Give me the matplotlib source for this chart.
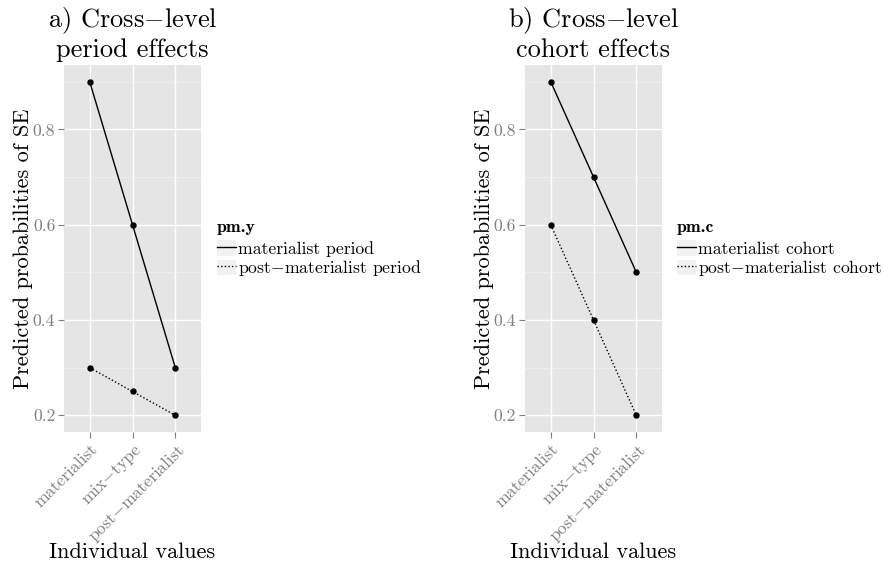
import matplotlib
matplotlib.use("Agg")
import matplotlib.pyplot as plt
from matplotlib.lines import Line2D
from matplotlib.patches import Patch
from matplotlib.ticker import FixedLocator

plt.rcParams['font.family'] = ['cmr10', 'DejaVu Serif']
plt.rcParams['mathtext.fontset'] = 'cm'
plt.rcParams['axes.formatter.use_mathtext'] = True

categories = ["materialist", "mix$-$type", "post$-$materialist"]
period_materialist = [0.9, 0.6, 0.3]
period_postmat = [0.3, 0.25, 0.2]
cohort_materialist = [0.9, 0.7, 0.5]
cohort_postmat = [0.6, 0.4, 0.2]
yticks = [0.2, 0.4, 0.6, 0.8]
yminor = [0.3, 0.5, 0.7, 0.9]

dotted = (0, (1, 1.6))
panels = [
    dict(title="a) Cross$-$level\nperiod effects", legend_title="pm.y",
         series=[("materialist period", period_materialist, '-'),
                 ("post$-$materialist period", period_postmat, dotted)],
         left=64, leg_x=217),
    dict(title="b) Cross$-$level\ncohort effects", legend_title="pm.c",
         series=[("materialist cohort", cohort_materialist, '-'),
                 ("post$-$materialist cohort", cohort_postmat, dotted)],
         left=525, leg_x=677),
]

W, H = 885, 566
fig = plt.figure(figsize=(W / 100, H / 100), dpi=100)
fig.patch.set_facecolor('white')

grey50 = '#7F7F7F'
ax_h = 432 - 65
for p in panels:
    ax = fig.add_axes([p['left'] / W, 1 - 432 / H, 137 / W, ax_h / H])
    ax.set_facecolor('#E5E5E5')
    for s in ax.spines.values():
        s.set_visible(False)
    x = list(range(1, len(categories) + 1))
    handles = []
    for label, vals, ls in p['series']:
        ax.plot(x, vals, color='black', lw=1.0, ls=ls, marker='o', ms=3.6,
                zorder=3)
        handles.append((Patch(facecolor='#F2F2F2', edgecolor='none'),
                        Line2D([], [], color='black', lw=1.0, ls=ls)))
    ax.set_xlim(0.4, 3.6)
    ax.set_ylim(0.165, 0.935)
    ax.set_xticks(x)
    ax.set_xticklabels(categories, rotation=45, ha='right', va='top',
                       rotation_mode='anchor', color=grey50, fontsize=12.7)
    ax.set_yticks(yticks)
    ax.set_yticklabels([f"{v:.1f}" for v in yticks], color=grey50, fontsize=12.7)
    ax.yaxis.set_minor_locator(FixedLocator(yminor))
    ax.grid(True, which='major', color='white', lw=1.0)
    ax.grid(True, which='minor', axis='y', color='#F2F2F2', lw=0.5)
    ax.set_axisbelow(True)
    ax.tick_params(axis='both', which='major', length=4.3, width=0.8,
                   color=grey50, pad=2)
    ax.tick_params(axis='y', which='minor', length=0)
    ax.set_title(p['title'], fontsize=19, pad=5.5, linespacing=1.15)
    ax.set_ylabel("Predicted probabilities of SE", fontsize=16)
    ax.yaxis.set_label_coords(-0.226, 0.5)
    ax.set_xlabel("Individual values", fontsize=16)
    ax.xaxis.set_label_coords(0.5, (432 - 542) / ax_h)
    leg = ax.legend(handles, [s[0] for s in p['series']],
                    title=p['legend_title'], loc='center left',
                    bbox_to_anchor=(p['leg_x'] / W, 1 - 249 / H),
                    bbox_transform=fig.transFigure, frameon=False,
                    borderpad=0, borderaxespad=0, fontsize=12.7,
                    handlelength=1.05, handleheight=1.0, labelspacing=0.08,
                    handletextpad=0.12, alignment='left')
    leg.get_title().set_fontfamily('cmb10')
    leg.get_title().set_fontsize(12.7)
    leg._legend_box.sep = 4

fig.savefig('out.png', dpi=100)
